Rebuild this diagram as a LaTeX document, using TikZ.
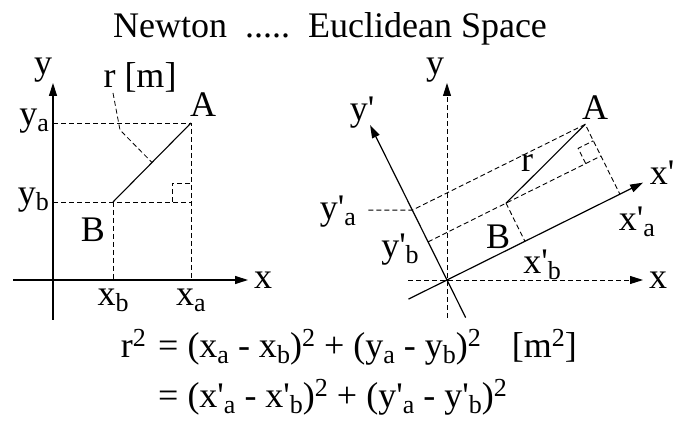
\documentclass[tikz,border=0pt]{standalone}
\usepackage{fontspec}
\setmainfont{Liberation Serif}[Ligatures=TeXOff]
\usetikzlibrary{arrows.meta,calc,positioning}
\newcommand\subs[1]{\raisebox{-0.16em}{\fontsize{26}{26}\selectfont #1}}
\newcommand\sups[1]{\raisebox{0.32em}{\fontsize{26}{26}\selectfont #1}}

\begin{document}
\begin{tikzpicture}[x=1pt,y=1pt,
  every node/.style={font=\fontsize{36}{40}\selectfont,inner sep=0pt},
  axis/.style={line width=1.2pt,-{Triangle[length=13pt,width=8pt]}},
  guide/.style={line width=0.9pt,dash pattern=on 5pt off 3pt},
  seg/.style={line width=1.1pt}]
  \useasboundingbox (0,0) rectangle (687,435);
  \node[anchor=base] (title) at (330,397) {Newton\ \ .....\ \ Euclidean Space};
  % Newton frame
  \coordinate (O1) at (53,155);
  \coordinate (A1) at (191,312);
  \coordinate (B1) at (113,233);
  \coordinate (C1) at (A1 |- B1);
  \coordinate (ya1) at (O1 |- A1);
  \coordinate (yb1) at (O1 |- B1);
  \coordinate (xa1) at (A1 |- O1);
  \coordinate (xb1) at (B1 |- O1);
  \coordinate (xl1) at (13,155);
  \coordinate (xr1) at (248,155);
  \coordinate (yd1) at (53,115);
  \coordinate (yu1) at (53,352);
  \draw[axis] (xl1) -- (xr1);
  \draw[axis] (yd1) -- (yu1);
  \draw[guide] (ya1) -- (A1) -- (xa1);
  \draw[guide] (yb1) -- (C1);
  \draw[guide] (B1) -- (xb1);
  \draw[guide] ($(C1)+(-19,0)$) -- ++(0,19) -- ++(19,0);
  \draw[seg] (B1) -- (A1);
  \coordinate (r1) at ($(B1)!0.5!(A1)$);
  \draw[guide,line width=0.8pt] (113,342) -- (120,305) -- (r1);
  \node (rm) at (140,358) {r [m]};
  \node (A1l) at (203,330) {A};
  \node (B1l) at (93,205) {B};
  \node[right=6pt of xr1] (x1l) {x};
  \node (y1l) at (43,365) {y};
  \node[anchor=east] (ya1l) at (49,314) {y\subs{a}};
  \node[anchor=east] (yb1l) at (49,235) {y\subs{b}};
  \node (xb1l) at (113,135) {x\subs{b}};
  \node (xa1l) at (191,135) {x\subs{a}};
  % rotated frame
  \coordinate (O2) at (447,155);
  \coordinate (xl2) at (408,155);
  \coordinate (xr2) at (643,155);
  \coordinate (yd2) at (447,117);
  \coordinate (yu2) at (447,352);
  \begin{scope}[shift={(O2)},rotate=26.4]
    \coordinate (xp0) at (-43,0);
    \coordinate (xp1) at (219,0);
    \coordinate (yp0) at (0,-42);
    \coordinate (yp1) at (0,173);
    \coordinate (A2) at (193,78);
    \coordinate (B2) at (87,42.6);
    \coordinate (C2) at (193,42.6);
    \coordinate (xa2) at (193,0);
    \coordinate (xb2) at (87,0);
    \coordinate (ya2) at (0,78);
    \coordinate (yb2) at (0,42.6);
    \draw[guide] ($(C2)+(-17,0)$) -- ++(0,17) -- ++(17,0);
  \end{scope}
  \coordinate (yal) at ($(ya2)+(-44,0)$);
  \draw[axis,dash pattern=on 5pt off 3pt,line width=0.9pt] (xl2) -- (xr2);
  \draw[axis,dash pattern=on 5pt off 3pt,line width=0.9pt] (yd2) -- (yu2);
  \draw[axis] (xp0) -- (xp1);
  \draw[axis] (yp0) -- (yp1);
  \draw[guide] (yal) -- (ya2) -- (A2) -- (xa2);
  \draw[guide] (yb2) -- (C2);
  \draw[guide] (B2) -- (xb2);
  \draw[seg] (B2) -- (A2);
  \node (A2l) at (595,327) {A};
  \node (B2l) at (498,198) {B};
  \node (r2) at (527,272) {r};
  \node (y2l) at (435,365) {y};
  \node[right=6pt of xr2] (x2l) {x};
  \node (xp2l) at (662,262) {x'};
  \node (yp2l) at (362,322) {y'};
  \node (xpa2l) at (637,213) {x'\subs{a}};
  \node (xpb2l) at (542,170) {x'\subs{b}};
  \node (ypa2l) at (338,223) {y'\subs{a}};
  \node (ypb2l) at (400,185) {y'\subs{b}};
  % distance
  \node[anchor=base east] (eqr) at (146,77) {r\sups{2}};
  \node[anchor=base west] (eq1) at (158,77) {=\ (x\subs{a} - x\subs{b})\sups{2} + (y\subs{a} - y\subs{b})\sups{2}\hspace{31pt}[m\sups{2}]};
  \node[anchor=base west] (eq2) at (158,27) {=\ (x'\subs{a} - x'\subs{b})\sups{2} + (y'\subs{a} - y'\subs{b})\sups{2}};
\end{tikzpicture}
\end{document}
